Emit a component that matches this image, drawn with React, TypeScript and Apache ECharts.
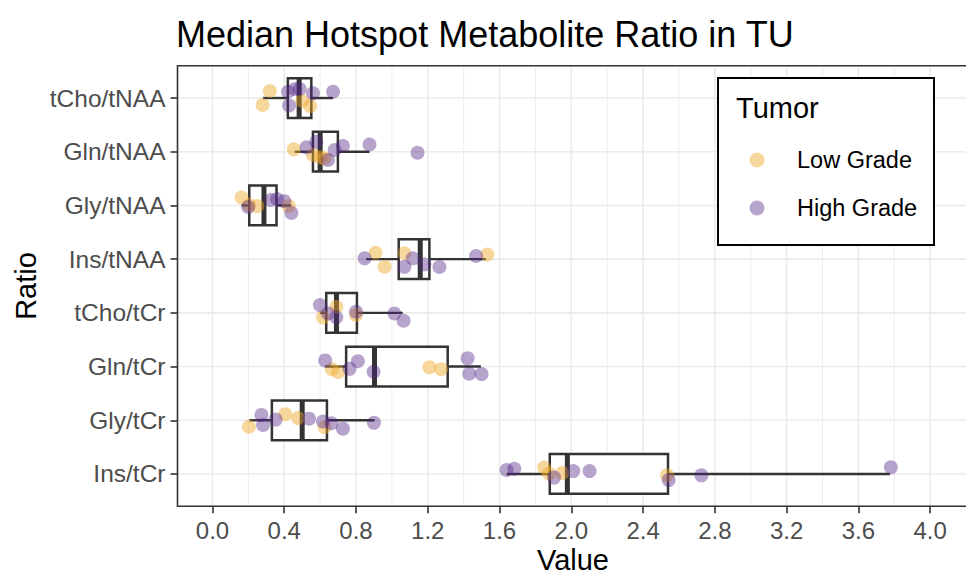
import React, { useEffect, useRef } from 'react';
import * as echarts from 'echarts';

const categories = ['tCho/tNAA', 'Gln/tNAA', 'Gly/tNAA', 'Ins/tNAA', 'tCho/tCr', 'Gln/tCr', 'Gly/tCr', 'Ins/tCr'];

// Box statistics (whisker low, Q1, median, Q3, whisker high)
const boxLow = [0.282, 0.459, 0.162, 0.857, 0.599, 0.628, 0.205, 1.64];
const boxQ1 = [0.42, 0.56, 0.205, 1.038, 0.634, 0.745, 0.331, 1.88];
const boxMed = [0.483, 0.6, 0.287, 1.158, 0.691, 0.903, 0.5, 1.978];
const boxQ3 = [0.551, 0.699, 0.357, 1.209, 0.805, 1.311, 0.638, 2.539];
const boxHigh = [0.672, 0.875, 0.44, 1.524, 1.06, 1.496, 0.903, 3.776];

// Low Grade points: value, category index, vertical jitter (category units)
const lowVal = [0.32, 0.279, 0.5, 0.545, 0.453, 0.56, 0.6, 0.625, 0.162, 0.205, 0.25, 0.425, 0.909, 0.959, 1.07, 1.533, 0.616, 0.69, 0.8, 0.665, 0.7, 1.209, 1.274, 0.203, 0.406, 0.477, 0.625, 1.848, 1.876, 1.95, 2.534];
const lowRow = [0, 0, 0, 0, 1, 1, 1, 1, 2, 2, 2, 2, 3, 3, 3, 3, 4, 4, 4, 5, 5, 5, 5, 6, 6, 6, 6, 7, 7, 7, 7];
const lowJit = [-0.13, 0.13, 0.056, 0.15, -0.044, 0.06, 0.104, 0.123, -0.147, -0.007, 0.011, 0.011, -0.12, 0.14, -0.11, -0.086, 0.084, -0.114, 0.04, 0.05, 0.1, 0.015, 0.05, 0.12, -0.11, -0.04, 0.13, -0.12, -0.01, -0.02, 0.026];

// High Grade points
const highVal = [0.421, 0.459, 0.486, 0.56, 0.672, 0.427, 0.524, 0.579, 0.644, 0.681, 0.727, 0.875, 1.143, 0.199, 0.325, 0.36, 0.4, 0.44, 0.848, 1.07, 1.116, 1.181, 1.265, 1.469, 0.599, 0.644, 0.69, 0.8, 1.014, 1.065, 0.628, 0.764, 0.81, 0.898, 1.422, 1.431, 1.5, 0.273, 0.282, 0.352, 0.538, 0.616, 0.663, 0.727, 0.9, 1.639, 1.682, 1.904, 2.011, 2.102, 2.543, 2.725, 3.781];
const highRow = [0, 0, 0, 0, 0, 0, 1, 1, 1, 1, 1, 1, 1, 2, 2, 2, 2, 2, 3, 3, 3, 3, 3, 3, 4, 4, 4, 4, 4, 4, 5, 5, 5, 5, 5, 5, 5, 6, 6, 6, 6, 6, 6, 6, 6, 7, 7, 7, 7, 7, 7, 7, 7];
const highJit = [-0.117, -0.168, -0.168, -0.088, -0.117, 0.14, -0.082, -0.186, 0.155, -0.032, -0.106, -0.134, 0.019, 0.03, -0.1, -0.12, -0.08, 0.14, -0.015, 0.143, -0.015, 0.097, 0.147, -0.058, -0.145, 0.01, 0.084, -0.02, 0.013, 0.147, -0.115, 0.043, -0.1, 0.097, -0.153, 0.134, 0.14, -0.1, 0.086, -0.013, -0.03, 0.024, 0.056, 0.156, 0.048, -0.073, -0.097, 0.067, -0.054, -0.054, 0.114, 0.026, -0.123];

const xTicks = [0, 0.4, 0.8, 1.2, 1.6, 2.0, 2.4, 2.8, 3.2, 3.6, 4.0];
const xMinor = [0.2, 0.6, 1.0, 1.4, 1.8, 2.2, 2.6, 3.0, 3.4, 3.8];

const LOW_COLOR = '#EFA626';
const HIGH_COLOR = '#542788';
const FONT = "'Liberation Sans', Arial, Helvetica, sans-serif";

export default function App() {
  const ref = useRef<HTMLDivElement>(null);

  useEffect(() => {
    if (!ref.current) return;
    const chart = echarts.init(ref.current, null, { renderer: 'svg' });

    const G = { left: 177.5, top: 65.8, width: 790.6, height: 440.4 };

    const gridData: number[][] = [
      ...xTicks.map((v) => [v, 0, 0]),
      ...xMinor.map((v) => [v, 0, 1]),
      ...categories.map((_, i) => [0, i, 2]),
    ];

    const boxData = categories.map((_, i) => [i, boxLow[i], boxQ1[i], boxMed[i], boxQ3[i], boxHigh[i]]);
    const lowData = lowVal.map((v, k) => [v, lowRow[k] + lowJit[k]]);
    const highData = highVal.map((v, k) => [v, highRow[k] + highJit[k]]);

    const option: any = {
      animation: false,
      textStyle: { fontFamily: FONT },
      grid: { ...G, containLabel: false },
      xAxis: {
        type: 'value',
        min: -0.195,
        max: 4.2,
        axisLine: { show: false, onZero: false },
        splitLine: { show: false },
        axisTick: { show: true, customValues: xTicks, length: 7, lineStyle: { color: '#333333', width: 1.6 } },
        axisLabel: {
          customValues: xTicks,
          formatter: (v: number) => v.toFixed(1),
          fontSize: 24,
          color: '#4D4D4D',
          margin: 12,
          fontFamily: FONT,
        },
      },
      yAxis: {
        type: 'value',
        inverse: true,
        min: -0.6,
        max: 7.6,
        axisLine: { show: false, onZero: false },
        splitLine: { show: false },
        axisTick: { show: true, customValues: categories.map((_, i) => i), length: 7, lineStyle: { color: '#333333', width: 1.6 } },
        axisLabel: {
          customValues: categories.map((_, i) => i),
          formatter: (v: number) => categories[Math.round(v)] ?? '',
          fontSize: 24.5,
          color: '#4D4D4D',
          margin: 12,
          fontFamily: FONT,
        },
      },
      series: [
        {
          type: 'custom',
          silent: true,
          z: 1,
          encode: { x: 0, y: 1 },
          data: gridData,
          renderItem: (params: any, api: any) => {
            const cs = params.coordSys;
            const kind = api.value(2);
            if (kind === 2) {
              const p = api.coord([0, api.value(1)]);
              return {
                type: 'line',
                shape: { x1: cs.x, y1: p[1], x2: cs.x + cs.width, y2: p[1] },
                style: { stroke: '#EBEBEB', lineWidth: 1.6 },
              };
            }
            const p = api.coord([api.value(0), 0]);
            return {
              type: 'line',
              shape: { x1: p[0], y1: cs.y, x2: p[0], y2: cs.y + cs.height },
              style: { stroke: '#EBEBEB', lineWidth: kind === 0 ? 1.6 : 0.9 },
            };
          },
        },
        {
          type: 'custom',
          z: 2,
          encode: { x: [1, 2, 3, 4, 5], y: 0 },
          data: boxData,
          renderItem: (params: any, api: any) => {
            const i = api.value(0);
            const h = 0.37;
            const yC = api.coord([0, i])[1];
            const yT = api.coord([0, i - h])[1];
            const yB = api.coord([0, i + h])[1];
            const top = Math.min(yT, yB);
            const bot = Math.max(yT, yB);
            const x = (d: number) => api.coord([api.value(d), i])[0];
            const xLo = x(1), xQ1 = x(2), xMed = x(3), xQ3 = x(4), xHi = x(5);
            const stroke = '#333333';
            return {
              type: 'group',
              children: [
                { type: 'line', shape: { x1: xLo, y1: yC, x2: xQ1, y2: yC }, style: { stroke, lineWidth: 2.4 } },
                { type: 'line', shape: { x1: xQ3, y1: yC, x2: xHi, y2: yC }, style: { stroke, lineWidth: 2.4 } },
                { type: 'rect', shape: { x: xQ1, y: top, width: xQ3 - xQ1, height: bot - top }, style: { fill: '#FFFFFF', stroke, lineWidth: 2.5 } },
                { type: 'line', shape: { x1: xMed, y1: top, x2: xMed, y2: bot }, style: { stroke, lineWidth: 5 } },
              ],
            };
          },
        },
        {
          type: 'scatter',
          name: 'Low Grade',
          z: 3,
          symbol: 'circle',
          symbolSize: 14,
          data: lowData,
          itemStyle: { color: LOW_COLOR, opacity: 0.45 },
        },
        {
          type: 'scatter',
          name: 'High Grade',
          z: 3,
          symbol: 'circle',
          symbolSize: 14,
          data: highData,
          itemStyle: { color: HIGH_COLOR, opacity: 0.42 },
        },
      ],
      graphic: [
        {
          type: 'rect',
          silent: true,
          z: 100,
          shape: { x: G.left, y: G.top, width: G.width, height: G.height },
          style: { fill: 'none', stroke: '#333333', lineWidth: 1.6 },
        },
        {
          type: 'text',
          x: 176,
          y: 34,
          z: 100,
          style: { text: 'Median Hotspot Metabolite Ratio in TU', fontSize: 36, fill: '#000000', fontFamily: FONT, textAlign: 'left', textVerticalAlign: 'middle' },
        },
        {
          type: 'text',
          x: 573,
          y: 560,
          z: 100,
          style: { text: 'Value', fontSize: 29, fill: '#000000', fontFamily: FONT, textAlign: 'center', textVerticalAlign: 'middle' },
        },
        {
          type: 'text',
          x: 26,
          y: 286,
          rotation: Math.PI / 2,
          z: 100,
          style: { text: 'Ratio', fontSize: 29, fill: '#000000', fontFamily: FONT, textAlign: 'center', textVerticalAlign: 'middle' },
        },
        {
          type: 'rect',
          z: 110,
          shape: { x: 718, y: 78, width: 216, height: 167 },
          style: { fill: '#FFFFFF', stroke: '#000000', lineWidth: 2 },
        },
        {
          type: 'text',
          x: 736,
          y: 108,
          z: 111,
          style: { text: 'Tumor', fontSize: 29, fill: '#000000', fontFamily: FONT, textAlign: 'left', textVerticalAlign: 'middle' },
        },
        {
          type: 'circle',
          z: 111,
          shape: { cx: 757, cy: 160, r: 7.5 },
          style: { fill: LOW_COLOR, opacity: 0.45 },
        },
        {
          type: 'circle',
          z: 111,
          shape: { cx: 757, cy: 208, r: 7.5 },
          style: { fill: HIGH_COLOR, opacity: 0.42 },
        },
        {
          type: 'text',
          x: 797,
          y: 160,
          z: 111,
          style: { text: 'Low Grade', fontSize: 23.5, fill: '#000000', fontFamily: FONT, textAlign: 'left', textVerticalAlign: 'middle' },
        },
        {
          type: 'text',
          x: 797,
          y: 208,
          z: 111,
          style: { text: 'High Grade', fontSize: 23.5, fill: '#000000', fontFamily: FONT, textAlign: 'left', textVerticalAlign: 'middle' },
        },
      ],
    };

    chart.setOption(option);
    return () => chart.dispose();
  }, []);

  return <div ref={ref} style={{ position: 'absolute', left: 0, top: 0, width: 966, height: 576 }} />;
}
